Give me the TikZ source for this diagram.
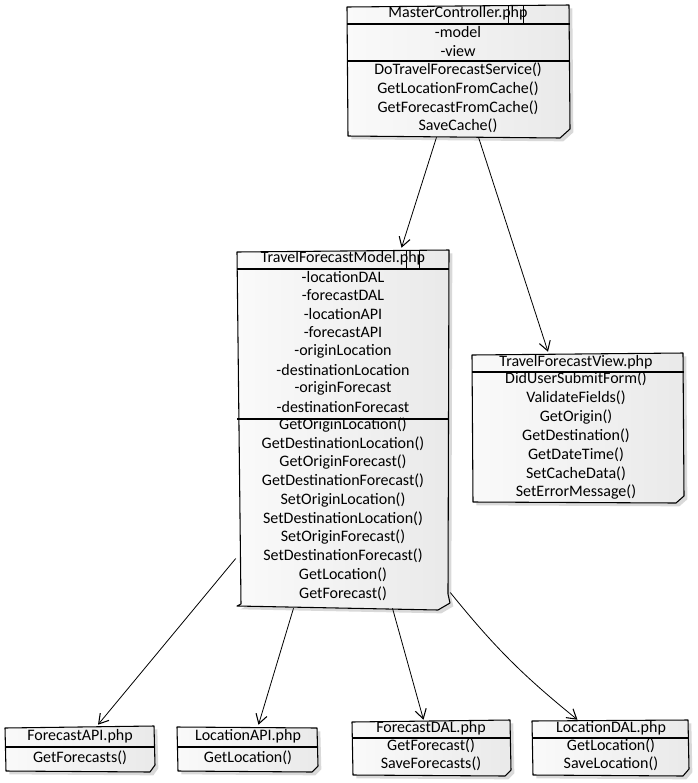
\documentclass[tikz,border=0pt]{standalone}
\usepackage{fontspec}
\setmainfont{Carlito}
\usetikzlibrary{arrows.meta,calc,fit,shadows}
\begin{document}
\begin{tikzpicture}[x=0.75pt,y=-0.75pt,
  lbl/.style={font=\fontsize{12}{13}\selectfont, inner sep=0, anchor=center},
  frame/.style={draw=black, line width=0.8pt, line join=round,
    left color=gray!4, right color=gray!17,
    drop shadow={shadow xshift=2.5pt, shadow yshift=-2.5pt, fill=black, opacity=0.15}},
  sepline/.style={draw=black, line width=0.8pt},
  glitch/.style={draw=black, line width=0.5pt},
  arr/.style={draw=black, line width=0.6pt,
    -{Straight Barb[length=7pt,width=8.5pt,line width=0.8pt]}},
  hole/.style={inner sep=0pt, draw=none}]
\useasboundingbox (0,0) rectangle (698,783);

% ---------- MasterController ----------
\node[hole, fit={(347,6)(570,136)}] (M) {};
\path[frame] (347,7) -- (569,5) -- (570,129) -- (560,138) -- (348,136) -- cycle;
\draw[sepline] (347,24) -- (570,24);
\draw[sepline] (347,61) -- (570,61);
\node[lbl] (m0) at (458,13) {MasterController.php};
\draw[glitch] ($(m0.east)+(-19,-7)$) -- ($(m0.east)+(-19,11)$)
              ($(m0.east)+(-4,-7)$) -- ($(m0.east)+(-4,11)$);
\foreach \t [count=\i] in {-model,-view}
  \node[lbl] (ma\i) at (458,{32+18.7*(\i-1)}) {\t};
\foreach \t [count=\i] in {DoTravelForecastService(),GetLocationFromCache(),GetForecastFromCache(),SaveCache()}
  \node[lbl] (mm\i) at (458,{70+18.7*(\i-1)}) {\t};

% ---------- TravelForecastModel ----------
\node[hole, fit={(237,252)(450,607)}] (T) {};
\path[frame] (237,252) -- (449,250) -- (448,594) -- (450,603) -- (438,610) -- (237,606) -- (241,604) -- cycle;
\draw[sepline] (237,269) -- (449,269);
\draw[sepline] (237,419) -- (449,419);
\node[lbl] (t0) at (343,258) {TravelForecastModel.php};
\draw[glitch] ($(t0.east)+(-19,-7)$) -- ($(t0.east)+(-19,11)$)
              ($(t0.east)+(-6,-7)$) -- ($(t0.east)+(-6,11)$);
\foreach \t [count=\i] in {-locationDAL,-forecastDAL,-locationAPI,-forecastAPI,-originLocation,-destinationLocation,-originForecast,-destinationForecast}
  \node[lbl] (ta\i) at (343,{277+18.5*(\i-1)}) {\t};
\foreach \t [count=\i] in {GetOriginLocation(),GetDestinationLocation(),GetOriginForecast(),GetDestinationForecast(),SetOriginLocation(),SetDestinationLocation(),SetOriginForecast(),SetDestinationForecast(),GetLocation(),GetForecast()}
  \node[lbl] (tm\i) at (343,{425+18.7*(\i-1)}) {\t};

% ---------- TravelForecastView ----------
\node[hole, fit={(472,354)(684,503)}] (V) {};
\path[frame] (472,355) -- (683,353) -- (684,496) -- (676,503) -- (473,502) -- cycle;
\draw[sepline] (472,372) -- (684,372);
\node[lbl] (v0) at (576,362) {TravelForecastView.php};
\foreach \t [count=\i] in {DidUserSubmitForm(),ValidateFields(),GetOrigin(),GetDestination(),GetDateTime(),SetCacheData(),SetErrorMessage()}
  \node[lbl] (vm\i) at (576,{379+18.9*(\i-1)}) {\t};

% ---------- ForecastAPI ----------
\node[hole, fit={(5,727)(155,772)}] (FA) {};
\path[frame] (5,728) -- (154,726) -- (155,765) -- (150,772) -- (6,771) -- cycle;
\draw[sepline] (5,747) -- (155,747);
\node[lbl] (fa0) at (80,736) {ForecastAPI.php};
\node[lbl] (fa1) at (80,758) {GetForecasts()};

% ---------- LocationAPI ----------
\node[hole, fit={(177,727)(318,772)}] (LA) {};
\path[frame] (177,727) -- (317,728) -- (318,766) -- (312,772) -- (178,771) -- cycle;
\draw[sepline] (177,747) -- (318,747);
\node[lbl] (la0) at (248,736) {LocationAPI.php};
\node[lbl] (la1) at (248,758) {GetLocation()};

% ---------- ForecastDAL ----------
\node[hole, fit={(352,721)(511,776)}] (FD) {};
\path[frame] (352,722) -- (510,720) -- (511,770) -- (505,776) -- (353,775) -- cycle;
\draw[sepline] (352,738) -- (511,738);
\node[lbl] (fd0) at (431,728) {ForecastDAL.php};
\node[lbl] (fd1) at (431,746) {GetForecast()};
\node[lbl] (fd2) at (431,764) {SaveForecasts()};

% ---------- LocationDAL ----------
\node[hole, fit={(532,721)(689,776)}] (LD) {};
\path[frame] (532,721) -- (688,720) -- (689,769) -- (683,776) -- (533,775) -- cycle;
\draw[sepline] (532,738) -- (689,738);
\node[lbl] (ld0) at (611,728) {LocationDAL.php};
\node[lbl] (ld1) at (611,746) {GetLocation()};
\node[lbl] (ld2) at (611,764) {SaveLocation()};

% ---------- connectors ----------
\draw[arr] ($(M.south)+(-22,1)$) -- ($(T.north)+(58,-4)$);
\draw[arr] ($(M.south)+(20,1)$) -- ($(V.north)+(-30,-2)$);
\draw[arr] ($(T.west)+(-1,129)$) -- ($(FA.north)+(18,-2)$);
\draw[arr] ($(T.south)+(-50,1)$) -- ($(LA.north)+(11,-2)$);
\draw[arr] ($(T.south)+(49,1)$) -- ($(FD.north)+(-8,-1)$);
\draw[arr] ($(T.east)+(0,163)$) to[bend right=6] ($(LD.north)+(-33,-1)$);
\end{tikzpicture}
\end{document}
